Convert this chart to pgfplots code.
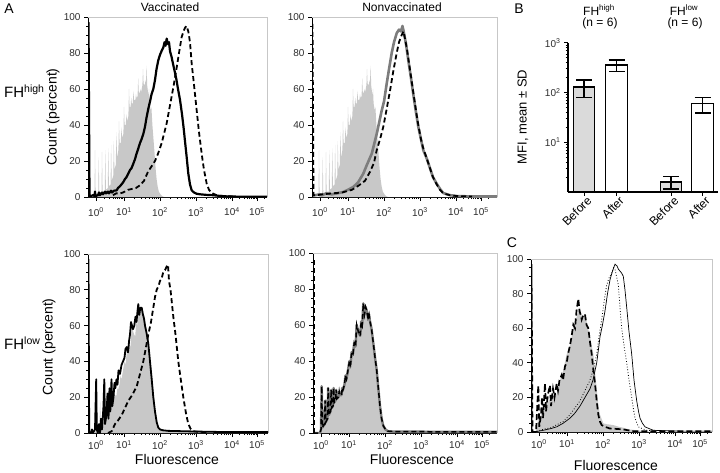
\documentclass[border=0pt]{standalone}
\usepackage{pgfplots}
\usepackage{pgfplotstable}
\pgfplotsset{compat=1.18}
\usepackage{fontspec}
\setmainfont{Liberation Sans}
\definecolor{hgray}{RGB}{200,200,200}
\definecolor{lgray}{RGB}{125,125,125}
\definecolor{fgray}{RGB}{218,218,218}
\definecolor{tickc}{RGB}{45,45,45}

% x values: pixel offsets on a display (logicle-like) scale; 10^0..10^5 at 8,36,72,108,144,169
\pgfplotstableread{
x y
0 0
6.5 0
7 26
7.6 1
10.2 1
10.7 22
11.3 2
13.5 2
14 25
14.6 3
16.8 3
17.3 26
17.9 4
19.8 5
20.3 27
20.9 6
22.6 7
23.1 29
23.7 9
25.3 12
25.8 31
26.4 15
27.8 18
28.4 36
29.0 22
30.4 26
31.0 42
31.6 30
32.8 30
33.4 39
34.0 33
35.4 35
36.0 50
36.6 40
37.8 40
38.4 46
39.0 42
40.4 45
41.0 60
41.6 50
42.6 50
43.2 55
43.8 52
44.8 52
45.4 59
46.0 54
47.4 54
48.0 57
48.6 55
49.6 56
50.2 66
50.8 58
51.8 58
52.4 60
53.0 58
54.4 62
55.0 71
55.6 63
56.8 62
57.4 65
58.0 63
58.6 73
59.2 62
60.5 56
61.0 60
61.6 52
62.8 48
63.4 50
64.4 40
65.5 32
66.6 24
67.6 16
68.6 10
69.6 6
70.8 3
72.5 1.5
74 0.5
76 0
185 0
}\grayhigh

\pgfplotstableread{
x y
0 0
7 0
8 2
8.7 26
9.3 3
11.5 5
12.2 18
12.8 6
14.5 8
15.2 25
15.8 10
17.5 12
18.2 24
18.8 14
20 15
20.6 25
21.2 17
22.5 18
23.2 24
23.8 19
25.5 20
26.2 23
26.8 21
28.5 21
29.2 25
30 24
31.5 27
32.5 32
33.5 30
35 35
36.5 40
37.5 38
38.7 45
40 44
41.2 50
42.5 48
43.7 60
45 57
46.2 55
47.2 54
48.2 62
49.2 60
50.3 72
51.5 66
52.6 70
53.7 68
55 64
56 66
57 62
58.5 58
60.3 50
62 42
63.7 35
65.3 25
67 15
68.6 8
70.3 4
72.5 2
75 1
80 0.8
100 0.8
130 0.6
184 0.6
}\graylow

\pgfplotstableread{
x y
0 0
5 0
6 5
10 10
14 15
18 18
22 20
26 22
29 30
32 35
35.7 45
39 50
42.3 60
45 65
47.3 70
49 72
51 66
54 68
57 60
59 55
62.3 45
64 35
65.7 25
67.5 15
69 10
72.3 5
76 4.5
82.3 4
88 3
92 2.5
98 1.5
105.7 1
112 0.5
120 0
181 0
}\grayc

\pgfplotstableread{
x y
0.5 0
0.5 97
1.5 1
3 0.5
5 1
6.5 0.5
7 3
7.5 0.5
10 1
11 2.5
12 1
14 2.5
15 1.5
17 3
18 2
20 3
21 2
23 3.5
24 2.5
26 3.5
28.7 3.7
30 5
32 6
33.5 7
35.3 8.3
37 10
38.5 11
40.3 13
42 15
43.5 16
45.3 18.5
47 21
48.5 24
50.3 27
52 30
53.5 32
55.3 35
57 39
58.5 44
60.3 49
62 53
63.5 57
65.3 60
67 65
68.5 71
70.3 76
72 79
73.5 81
75.3 83
76.5 86
77.5 84
78.7 88
79.8 85
81 86
82 81
83.5 78
85 74
87 69
88.5 65
90 60
92 54
94 46
95.5 39
97 31
98.7 22
100.3 13
102 7
103.7 3.7
106 2.5
108.7 1.8
112 1.5
118 1.2
125 1
132 0.6
140 0.3
150 0.2
179 0.2
}\tlsolid

\pgfplotstableread{
x y
25 1
28 2
32 2
35 2.5
40 4
45 4.6
48 5
52 6.5
56 9
60 14
63.5 17
67 20
70 24
73.7 30
76 35
78.7 41
81 48
83.7 56
86 63
88.7 72
91 80
93.7 89
95.5 92
97 94
98.5 95
100.3 92
102 86
103.7 74
105.5 65
108.7 48
111 36
113.7 24
116 15
118.7 7.4
121 4
123.7 2.2
128.7 1
135 0.5
145 0.3
}\tldash

\pgfplotstableread{
x y
1.5 1
3 1
8 1.5
10 1
14 2
20 1.5
25 2
31.3 2.8
36 4
41.3 5.6
46 8
51.3 13
55 18
59.7 24
62 29
64.7 35
67 41
69.7 48
72 53
74.7 63
77 71
79.7 80
82 86
84.7 91
87 93
89 92
90.5 95
92 91
94 85
96.3 76
99 66
101.3 57
104 47
106.3 39
109 32
111.3 26
115 21
118 16
121 11
124.7 7.4
128 4.5
131.3 2.2
138 1
145 0.5
160 0.3
185 0.3
}\trsolid

\pgfplotstableread{
x y
0.5 0
0.5 97
1.5 1
5 1
10 1.5
20 2
30 2.5
40 4
47 6.5
53 9
58 14
62 19
64.7 26
68 32
71.3 39
74.7 49
78 59
81 69
84.7 80
87 86
89.7 90
91.5 92
93 88
95 82
96.3 77
99 67
101.3 58
104 48
106.3 40
109 32
111.3 27
115 21
118 16
121 11
124.7 7
128 4
131.3 2
138 1
145 0.5
160 0.3
}\trdash

\pgfplotstableread{
x y
0.5 0
0.5 97
1.2 0
3 0
4 2
5 0
7 2
8.2 30
8.8 2
9.8 0
11 5
12 0
13 8
14 2
15.5 15
16.3 30
17 5
18.5 10
19.5 22
20.5 8
21.5 25
22.3 12
23.5 30
24.3 15
25.5 20
26.5 28
27.3 25
28.5 30
29.5 27
30.5 35
32 33
33.5 38
35 40
36.5 42
37.5 47
38.7 48
40 45
41.2 52
42 55
43 62
44 60
45 58
46.3 60
47.5 65
48.5 62
49.5 68
50.3 72
51.3 66
52.3 70
53.7 70
55 66
56 64
57 60
58.5 56
60.3 50
62 40
63.7 30
65.3 20
67 12
68.7 6
70.3 3
72 2
75 1.5
80 1.2
95 1
110 0.8
130 0.6
145 0.5
180 0.5
}\blsolid

\pgfplotstableread{
x y
20 0
23.7 1
27 5
30 7
33.7 10
37 14
40.3 18
44 21
48.7 26
52 33
55.3 40
58 48
60.3 55
63 62
65.3 70
67 76
68.7 80
70.5 82
72 85
73.5 86
75.3 90
77 91
78.7 93
80 94
81 85
82.5 80
84 72
85.3 65
87.5 55
90.3 40
93 29
95.3 20
98 11
100.3 5
102.5 2.5
105 1
112 0.5
120 0.3
}\bldash

\pgfplotstableread{
x y
0.5 0
0.5 97
1.5 0
5 0
7.3 27
8.3 3
10 10
11 20
12 8
14 28
15 12
17 22
19 27
20 15
22 25
23.5 20
25.7 28
27 24
28.5 30
30.7 33
32 30
34 38
35.7 40
37 45
39 50
40.5 55
42.3 62
44 60
45.5 70
47.3 77
48.5 70
50 67
50.7 65
52.5 68
54 68
55.5 62
57.3 60
59 52
60.7 45
62.3 36
64 28
65.7 18
67.3 10
69 6
70.7 4
74 3
79 2
85 1.8
92.3 1.5
97 1
102 0.5
110 0.5
181 0.4
}\cdash

\pgfplotstableread{
x y
3 0
12.3 1
20 2
25.7 3
32 5
39 8
44 11
49 15
54 20
59 25
62 30
65.7 40
67.5 48
69 55
71.5 62
74 70
76.5 80
79 88
81.5 93
84 97
86 96
87.5 94
89 93
90.5 92
92.3 90
94 82
95.7 72
98 58
100.7 45
103 30
105.7 18
107.5 12
109 8
111.5 5
114 3
118 2
122.3 1
135 0.7
150 0.5
181 0.5
}\csolid

\pgfplotstableread{
x y
3 0
12 1.5
20 2.5
25 4
32 6
39 10
44 14
49 18
54 24
59 30
62.3 36
65.7 45
68 55
70.7 65
73 75
75.7 85
78 89
80.7 92
82.5 95
84 94
85.5 90
87.3 85
89 72
90.7 60
93 50
95.7 40
98 30
100.7 20
102.5 13
104 8
107.3 3
111 2
115.7 1
125 0.5
}\cdot

\pgfplotsset{
  hist/.style={
    scale only axis, anchor=south west,
    ymin=0, ymax=100, xmin=0,
    axis x line*=bottom, axis y line*=left,
    axis line style={black, line width=0.9pt, -},
    tick align=outside, major tick length=4pt, minor tick length=2pt,
    tick style={black, line width=0.7pt},
    ytick={0,20,40,60,80,100}, minor y tick num=3,
    xtick={8,36,72,108,144,169},
    xticklabels={10\textsuperscript{0},10\textsuperscript{1},10\textsuperscript{2},10\textsuperscript{3},10\textsuperscript{4},10\textsuperscript{5}},
    minor xtick={16.4,21.4,24.9,27.6,29.8,31.7,33.3,34.7,46.8,53.2,57.7,61.2,64.0,66.4,68.5,70.3,82.8,89.2,93.7,97.2,100.0,102.4,104.5,106.3,118.8,125.2,129.7,133.2,136.0,138.4,140.5,142.3,151.5,155.9,159.1,161.5,163.5,165.1,166.6,167.9,176.5},
    tick label style={font=\fontsize{10}{11}\selectfont, text=tickc},
    /pgf/number format/assume math mode=true,
    clip mode=individual,
  },
  toprow/.style={x tick label style={yshift=-3pt}},
  botrow/.style={x tick label style={yshift=0pt}},
  grayfill/.style={fill=hgray, draw=none},
  thickblack/.style={black, line width=2.2pt, line join=round},
  dashblack/.style={black, line width=1.8pt, dash pattern=on 5pt off 3pt},
}
\newcommand{\grayframe}{\draw[black!22, line width=0.6pt] (rel axis cs:0,1) -- (rel axis cs:1,1) -- (rel axis cs:1,0);}

\begin{document}
\begin{tikzpicture}
\useasboundingbox (0,0) rectangle (720pt,-473pt);

% A top-left: Vaccinated, FH high
\begin{axis}[hist, toprow, at={(88pt,-197pt)}, width=179pt, height=180pt, xmax=179]
\grayframe
\addplot[grayfill] table {\grayhigh} \closedcycle;
\addplot[dashblack] table {\tldash};
\addplot[thickblack] table {\tlsolid};
\end{axis}

% A top-right: Nonvaccinated, FH high
\begin{axis}[hist, toprow, at={(312pt,-197pt)}, width=185pt, height=180pt, xmax=185]
\grayframe
\addplot[grayfill] table {\grayhigh} \closedcycle;
\addplot[lgray, line width=2.6pt, line join=round] table {\trsolid};
\addplot[dashblack] table {\trdash};
\end{axis}

% A bottom-left: Vaccinated, FH low
\begin{axis}[hist, botrow, at={(88pt,-433pt)}, width=180pt, height=179pt, xmax=180]
\grayframe
\addplot[grayfill] table {\graylow} \closedcycle;
\addplot[dashblack] table {\bldash};
\addplot[black, line width=1.8pt, line join=round] table {\blsolid};
\end{axis}

% A bottom-middle: Nonvaccinated, FH low
\begin{axis}[hist, botrow, at={(313pt,-433pt)}, width=184pt, height=180pt, xmax=184]
\grayframe
\addplot[grayfill] table {\graylow} \closedcycle;
\addplot[lgray, line width=2.4pt, line join=round] table {\graylow};
\addplot[dashblack, line width=1.5pt] table {\graylow};
\addplot[black, line width=2pt, dash pattern=on 5pt off 3pt] coordinates {(0.5,0) (0.5,97)};
\end{axis}

% C
\begin{axis}[hist, botrow, at={(531pt,-432pt)}, width=181pt, height=173pt, xmax=181]
\grayframe
\addplot[grayfill] table {\grayc} \closedcycle;
\addplot[black, line width=1.7pt, dash pattern=on 6pt off 3pt] table {\cdash};
\addplot[black, line width=0.7pt] table {\csolid};
\addplot[black, line width=0.8pt, dotted] table {\cdot};
\end{axis}

% B bar chart
\begin{axis}[at={(568pt,-192pt)}, anchor=south west, scale only axis,
  width=150pt, height=149pt, xmin=0, xmax=150, ymode=log, ymin=1, ymax=1000,
  axis x line*=bottom, axis y line*=left,
  axis line style={black, line width=1.6pt, -},
  tick align=outside, major tick length=4pt, minor tick length=2.5pt,
  tick style={black, line width=1pt},
  ytick={10,100,1000},
  yticklabels={10\textsuperscript{1},10\textsuperscript{2},10\textsuperscript{3}},
  minor ytick={2,3,4,5,6,7,8,9,20,30,40,50,60,70,80,90,200,300,400,500,600,700,800,900},
  xtick={16,48.5,103,134.5},
  xticklabels={Before,After,Before,After},
  x tick label style={font=\fontsize{12}{13}\selectfont, rotate=45, anchor=north east, inner sep=1pt, xshift=3pt},
  y tick label style={font=\fontsize{10}{11}\selectfont, text=tickc},
  clip=false]
\addplot[ybar, bar shift=0pt, bar width=21.5pt, fill=fgray, draw=black, line width=1.3pt,
  error bars/.cd, y dir=both, y explicit,
  error bar style={line width=1.3pt, black},
  error mark options={rotate=90, mark size=8pt, line width=1.3pt, black}]
  coordinates {(16,130) +- (0,50) (103,1.6) +- (0,0.45)};
\addplot[ybar, bar shift=0pt, bar width=21.5pt, fill=white, draw=black, line width=1.3pt,
  error bars/.cd, y dir=both, y explicit,
  error bar style={line width=1.3pt, black},
  error mark options={rotate=90, mark size=8pt, line width=1.3pt, black}]
  coordinates {(48.5,360) +- (0,95) (134.5,60) +- (0,21)};
\end{axis}

% Text
\node[font=\fontsize{14}{16}\selectfont] at (9pt,-9pt) {A};
\node[font=\fontsize{12}{14}\selectfont] at (170pt,-7pt) {Vaccinated};
\node[font=\fontsize{12}{14}\selectfont] at (402pt,-7pt) {Nonvaccinated};
\node[font=\fontsize{15}{17}\selectfont, anchor=west, inner sep=0pt] at (4pt,-91pt) {FH\textsuperscript{high}};
\node[font=\fontsize{15}{17}\selectfont, anchor=west, inner sep=0pt] at (4pt,-343pt) {FH\textsuperscript{low}};
\node[font=\fontsize{14}{16}\selectfont, rotate=90] at (53pt,-117pt) {Count (percent)};
\node[font=\fontsize{14}{16}\selectfont, rotate=90] at (49pt,-347pt) {Count (percent)};
\node[font=\fontsize{14}{16}\selectfont] at (177pt,-459pt) {Fluorescence};
\node[font=\fontsize{14}{16}\selectfont] at (412pt,-459pt) {Fluorescence};
\node[font=\fontsize{14}{16}\selectfont] at (616pt,-465pt) {Fluorescence};
\node[font=\fontsize{14}{16}\selectfont] at (519pt,-9pt) {B};
\node[font=\fontsize{14}{16}\selectfont] at (512pt,-243pt) {C};
\node[font=\fontsize{12}{14}\selectfont] at (599pt,-10pt) {FH\textsuperscript{high}};
\node[font=\fontsize{12}{14}\selectfont] at (600pt,-23pt) {(n = 6)};
\node[font=\fontsize{12}{14}\selectfont] at (684pt,-10pt) {FH\textsuperscript{low}};
\node[font=\fontsize{12}{14}\selectfont] at (685pt,-23pt) {(n = 6)};
\node[font=\fontsize{13}{15}\selectfont, rotate=90] at (523pt,-117pt) {MFI, mean ± SD};
\end{tikzpicture}
\end{document}
